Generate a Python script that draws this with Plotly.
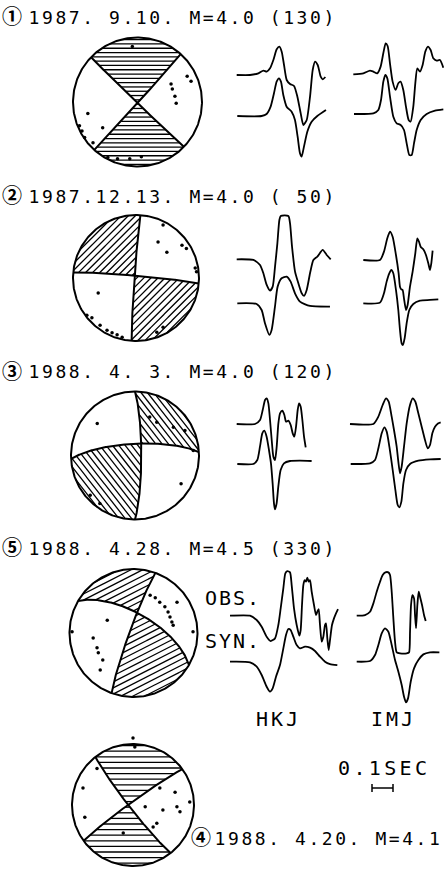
import numpy as np
import plotly.graph_objects as go

W, H = 444, 869

# ------------------------------------------------------------------
# Event headers
EVENT_ORDER = [1, 2, 3, 5, 4]
CIRCLED = {1: "①", 2: "②", 3: "③", 4: "④", 5: "⑤"}
DATES = {1: "1987. 9.10.", 2: "1987.12.13.", 3: "1988. 4. 3.", 5: "1988. 4.28.", 4: "1988. 4.20."}
MAGNITUDES = {1: 4.0, 2: 4.0, 3: 4.0, 5: 4.5, 4: 4.1}
BRACKET_VALUES = {1: 130, 2: 50, 3: 120, 5: 330, 4: None}

# ------------------------------------------------------------------
# Focal mechanisms: (strike, dip) of both nodal planes in degrees
PLANES = {
    1: [(42, 89), (134, 89)],
    2: [(184, 88), (275, 87)],
    3: [(267, 75), (0, 82)],
    5: [(300, 65), (200, 85)],
    4: [(142, 85), (234, 86)],
}
# rim azimuth (deg) that falls inside a compressional (hatched) quadrant
COMP_AZIMUTH = {1: 0, 2: 315, 3: 45, 5: 0, 4: 0}

# first-motion readings, projected (east, north) on the unit net
POLARITY_1_X = [0.52, 0.54, 0.58, 0.60, 0.77, 0.83, -0.77, -0.54, -0.90, -0.86, -0.82, -0.69, -0.08, -0.46, -0.31, -0.12, 0.06]
POLARITY_1_Y = [0.28, 0.20, 0.09, -0.02, 0.40, 0.32, -0.18, -0.40, -0.37, -0.45, -0.55, -0.63, 0.86, -0.86, -0.88, -0.88, -0.85]
POLARITY_2_X = [0.43, 0.35, 0.49, 0.73, 0.80, 0.94, 0.96, -0.60, -0.78, -0.70, -0.57, -0.46, -0.38, -0.30, -0.22, 0.33, 0.43]
POLARITY_2_Y = [0.84, 0.57, 0.41, 0.52, 0.47, 0.16, 0.10, -0.24, -0.59, -0.63, -0.75, -0.83, -0.87, -0.90, -0.94, -0.86, -0.78]
POLARITY_3_X = [-0.59, 0.72, 0.23, 0.34, 0.60, 0.78, 0.91, -0.70, -0.55]
POLARITY_3_Y = [0.50, -0.44, 0.60, 0.52, 0.44, 0.39, 0.08, -0.62, -0.75]
POLARITY_5_X = [0.26, 0.34, 0.41, 0.49, 0.54, 0.57, 0.60, 0.62, 0.68, -0.41, -0.63, -0.57, -0.55, -0.48, -0.52, 0.93, -0.96]
POLARITY_5_Y = [0.59, 0.55, 0.48, 0.41, 0.33, 0.25, 0.17, 0.12, 0.48, 0.20, -0.08, -0.23, -0.31, -0.42, -0.58, 0.02, 0.02]
POLARITY_4_X = [0.00, 0.03, -0.59, -0.82, -0.79, 0.44, 0.69, 0.20, 0.49, 0.72, 0.77, 0.39, 0.33, 0.93, -0.16]
POLARITY_4_Y = [1.10, 0.95, 0.60, 0.28, -0.20, 0.28, 0.21, -0.03, -0.08, -0.03, -0.11, -0.30, -0.36, 0.05, -0.46]
POLARITY = {1: (POLARITY_1_X, POLARITY_1_Y), 2: (POLARITY_2_X, POLARITY_2_Y),
            3: (POLARITY_3_X, POLARITY_3_Y), 5: (POLARITY_5_X, POLARITY_5_Y),
            4: (POLARITY_4_X, POLARITY_4_Y)}

# ------------------------------------------------------------------
# Waveforms: time in samples (630 samples/s), amplitude in counts
SAMPLES_PER_SEC = 630

HKJ_OBS_1_T = [0, 40, 65, 80, 90, 100, 110, 120, 128, 135, 142, 150, 160, 172, 182, 192, 200, 210, 220, 228, 235, 243, 252, 258, 266]
HKJ_OBS_1_A = [0, 0, 5, 13, 10, 20, 45, 77, 85, 70, 30, -15, -27, -33, -65, -115, -150, -135, -65, 15, 40, 30, -5, -13, -6]
HKJ_SYN_1_T = [0, 73, 88, 100, 110, 118, 125, 131, 138, 148, 163, 173, 181, 188, 193, 200, 210, 223, 240, 266]
HKJ_SYN_1_A = [0, 0, 6, 28, 68, 103, 113, 103, 63, 28, 13, -12, -62, -112, -122, -92, -47, -17, 0, 18]
IMJ_OBS_1_T = [0, 30, 50, 60, 72, 82, 90, 97, 103, 110, 118, 127, 135, 142, 150, 158, 166, 172, 180, 186, 192, 200, 208, 216, 224, 232, 240, 250, 260, 270]
IMJ_OBS_1_A = [0, 3, 11, 8, 3, 23, 63, 93, 85, 33, -22, -47, -27, -22, -47, -97, -137, -142, -97, -27, 18, 8, 28, 68, 83, 73, 48, 41, 43, 20]
IMJ_SYN_1_T = [0, 58, 73, 81, 88, 94, 100, 108, 118, 128, 140, 150, 158, 166, 173, 180, 188, 200, 218, 243, 268]
IMJ_SYN_1_A = [0, 2, 12, 42, 97, 117, 107, 52, -8, -28, -33, -48, -88, -123, -123, -88, -48, -18, 0, 10, 14]

HKJ_OBS_2_T = [0, 50, 70, 80, 90, 100, 108, 115, 122, 128, 132, 155, 160, 166, 175, 185, 195, 202, 210, 220, 230, 242, 258, 270, 282]
HKJ_OBS_2_A = [0, -2, -17, -42, -77, -94, -82, -22, 48, 118, 130, 130, 108, 38, -37, -72, -102, -110, -92, -42, -2, 8, 28, 13, 0]
HKJ_SYN_2_T = [0, 58, 73, 83, 96, 103, 113, 121, 133, 148, 160, 173, 188, 218, 278]
HKJ_SYN_2_A = [0, -2, -20, -60, -95, -80, -10, 50, 75, 80, 65, 30, 5, -8, -10]
IMJ_OBS_2_T = [0, 50, 62, 72, 80, 88, 98, 106, 110, 114, 118, 122, 128, 133, 140, 148, 156, 162, 167, 172, 180, 188, 195, 200, 204, 208]
IMJ_OBS_2_A = [0, 0, 25, 65, 85, 70, 15, -40, -80, -88, -90, -115, -150, -135, -80, -35, 20, 65, 55, 40, 32, 15, -10, -30, -10, 28]
IMJ_SYN_2_T = [0, 50, 62, 70, 78, 84, 90, 98, 105, 110, 115, 119, 124, 130, 138, 150, 170, 200, 225]
IMJ_SYN_2_A = [0, 2, 30, 65, 90, 100, 90, 40, -20, -80, -120, -125, -105, -60, -20, -2, 8, 10, 12]

HKJ_OBS_3_T = [0, 55, 70, 78, 85, 90, 95, 100, 105, 110, 115, 120, 125, 130, 137, 143, 148, 155, 162, 168, 173, 178, 183, 187, 192, 197, 202, 207]
HKJ_OBS_3_A = [0, 0, 12, 42, 72, 77, 62, 12, -48, -98, -108, -68, 2, 32, 40, 27, 7, 10, -3, -28, -38, -8, 42, 62, 52, 12, -38, -70]
HKJ_SYN_3_T = [0, 48, 60, 68, 75, 81, 88, 95, 101, 106, 110, 113, 118, 123, 130, 140, 158, 188, 223]
HKJ_SYN_3_A = [0, 0, 12, 52, 92, 100, 82, 42, 2, -58, -118, -136, -118, -68, -18, 2, 9, 10, 9]
IMJ_OBS_3_T = [0, 70, 85, 98, 108, 116, 125, 132, 140, 145, 150, 155, 162, 170, 180, 188, 196, 205, 215, 225, 233, 240, 247, 255, 265, 272]
IMJ_OBS_3_A = [0, 0, 22, 57, 77, 67, 22, -18, -68, -113, -148, -128, -68, 2, 57, 77, 67, 32, -8, -48, -73, -63, -28, -8, 2, 5]
IMJ_SYN_3_T = [0, 58, 73, 83, 93, 101, 108, 116, 126, 134, 141, 146, 152, 158, 166, 178, 203, 238, 270]
IMJ_SYN_3_A = [0, 2, 12, 47, 92, 110, 97, 52, -18, -78, -123, -130, -113, -58, -18, 0, 10, 14, 15]

HKJ_OBS_5_T = [0, 60, 80, 95, 110, 122, 135, 145, 152, 160, 166, 172, 180, 185, 192, 200, 208, 212, 216, 220, 224, 228, 232, 236, 240, 245, 252, 258, 262, 266, 270, 275, 280, 285, 288, 292, 296, 300, 306, 312, 318, 324]
HKJ_OBS_5_A = [0, 0, -13, -33, -63, -76, -68, -28, 22, 82, 127, 134, 130, 92, 22, -28, -60, -43, 32, 92, 107, 102, 114, 102, 107, 72, 32, 2, 12, 20, -28, -78, -63, -28, -23, -68, -103, -73, -28, -8, 7, 20]
HKJ_SYN_5_T = [0, 60, 80, 95, 110, 120, 128, 138, 150, 160, 168, 175, 182, 190, 200, 210, 225, 240, 255, 270, 285, 300, 322]
HKJ_SYN_5_A = [0, -2, -15, -40, -75, -90, -80, -45, -10, 40, 80, 98, 95, 75, 50, 40, 45, 42, 32, 15, 0, -7, -10]
IMJ_OBS_5_T = [0, 25, 40, 50, 60, 70, 78, 86, 95, 100, 105, 110, 115, 120, 130, 150, 157, 160, 163, 167, 172, 175, 178, 182, 186, 190, 196, 202, 207]
IMJ_OBS_5_A = [0, 2, 12, 37, 72, 102, 122, 130, 130, 122, 72, -8, -78, -110, -113, -113, -110, -48, 32, 62, 52, 2, -38, 32, 72, 57, 32, 2, -16]
IMJ_SYN_5_T = [0, 40, 55, 65, 75, 85, 95, 105, 115, 125, 135, 142, 148, 154, 162, 172, 185, 200, 220, 248]
IMJ_SYN_5_A = [0, 2, 20, 50, 85, 100, 90, 50, 5, -30, -70, -105, -122, -110, -60, -20, 5, 22, 28, 28]

WAVES = {
    1: {"HKJ": ((HKJ_OBS_1_T, HKJ_OBS_1_A), (HKJ_SYN_1_T, HKJ_SYN_1_A)),
        "IMJ": ((IMJ_OBS_1_T, IMJ_OBS_1_A), (IMJ_SYN_1_T, IMJ_SYN_1_A))},
    2: {"HKJ": ((HKJ_OBS_2_T, HKJ_OBS_2_A), (HKJ_SYN_2_T, HKJ_SYN_2_A)),
        "IMJ": ((IMJ_OBS_2_T, IMJ_OBS_2_A), (IMJ_SYN_2_T, IMJ_SYN_2_A))},
    3: {"HKJ": ((HKJ_OBS_3_T, HKJ_OBS_3_A), (HKJ_SYN_3_T, HKJ_SYN_3_A)),
        "IMJ": ((IMJ_OBS_3_T, IMJ_OBS_3_A), (IMJ_SYN_3_T, IMJ_SYN_3_A))},
    5: {"HKJ": ((HKJ_OBS_5_T, HKJ_OBS_5_A), (HKJ_SYN_5_T, HKJ_SYN_5_A)),
        "IMJ": ((IMJ_OBS_5_T, IMJ_OBS_5_A), (IMJ_SYN_5_T, IMJ_SYN_5_A))},
}
STATIONS = ["HKJ", "IMJ"]
SCALE_BAR_SEC = 0.1

# ------------------------------------------------------------------
# Page layout (pixel units, y downward)
BALL = {1: (137.5, 102, 64.5), 2: (136, 278, 63), 3: (135, 455.5, 64),
        5: (133.5, 633, 64), 4: (133, 805, 61)}
HATCH = {1: (0, 4.3), 2: (45, 5.0), 3: (-52, 5.0), 5: (27, 5.4), 4: (0, 5.6)}
WAVE_ORIGIN = {
    1: {"HKJ": ((236.7, 75), (237.3, 116)), "IMJ": ((353.3, 74.3), (354, 114))},
    2: {"HKJ": ((236.7, 259.3), (237.3, 303.3)), "IMJ": ((363.3, 260), (363.3, 303.3))},
    3: {"HKJ": ((236.7, 424), (237.3, 464)), "IMJ": ((350, 424), (350.7, 464))},
    5: {"HKJ": ((230, 615.7), (230, 661.7)), "IMJ": ((356.7, 615.7), (356.7, 661.7))},
}
PX_PER_SAMPLE = 1 / 3
PX_PER_COUNT = 1 / 3
# (circled-number x, first header char x, centre y)
TITLE_POS = {1: (12, 34, 19), 2: (12, 34, 198), 3: (12, 34, 373.5), 5: (12, 34, 550), 4: (201, 220, 840)}
TITLE_PITCH = 13.4

FONT = "DejaVu Sans Mono"
CIRCLE_FONT = "Noto Sans CJK JP"
INK = "black"

fig = go.Figure()


def add_line(xs, ys, width, shape="linear", smoothing=1.0):
    fig.add_trace(go.Scatter(x=xs, y=ys, mode="lines",
                             line=dict(color=INK, width=width, shape=shape, smoothing=smoothing),
                             hoverinfo="skip", showlegend=False))


def add_chars(text, x_first, y, pitch, size, family=FONT, weight="normal"):
    xs, ys, cs = [], [], []
    for i, ch in enumerate(text):
        if ch != " ":
            xs.append(x_first + i * pitch)
            ys.append(y)
            cs.append(ch)
    fig.add_trace(go.Scatter(x=xs, y=ys, mode="text", text=cs, textposition="middle center",
                             textfont=dict(family=family, size=size, color=INK, weight=weight),
                             hoverinfo="skip", showlegend=False))


# ---------------- stereonet helpers (lower hemisphere, equal area) ----------------
def project(v):
    n, e, d = v
    plunge = np.arcsin(np.clip(d, -1, 1))
    trend = np.arctan2(e, n)
    r = np.sqrt(2) * np.sin((np.pi / 2 - plunge) / 2)
    return r * np.sin(trend), r * np.cos(trend)


def unproject(x, y):
    r = np.hypot(x, y)
    trend = np.arctan2(x, y)
    plunge = np.pi / 2 - 2 * np.arcsin(np.clip(r / np.sqrt(2), 0, 1))
    return np.array([np.cos(plunge) * np.cos(trend), np.cos(plunge) * np.sin(trend), np.sin(plunge)])


def plane_normal(strike, dip):
    s, d = np.radians(strike), np.radians(dip)
    return np.array([-np.sin(d) * np.sin(s), np.sin(d) * np.cos(s), -np.cos(d)])


def nodal_curve(strike, dip):
    s, d = np.radians(strike), np.radians(dip)
    along = np.array([np.cos(s), np.sin(s), 0.0])
    down = np.array([-np.cos(d) * np.sin(s), np.cos(d) * np.cos(s), np.sin(d)])
    th = np.linspace(0, np.pi, 241)
    v = np.outer(along, np.cos(th)) + np.outer(down, np.sin(th))
    return project(v)


def draw_ball(ev):
    cx, cy, R = BALL[ev]
    normals = [plane_normal(*p) for p in PLANES[ev]]
    az = np.radians(COMP_AZIMUTH[ev])
    ref = np.array([np.cos(az), np.sin(az), 0.0])
    flip = np.sign((ref @ normals[0]) * (ref @ normals[1]))

    def compressional(x, y):
        v = unproject(x, y)
        return flip * (normals[0] @ v) * (normals[1] @ v) > 0

    # hatching of compressional quadrants
    ang, gap = HATCH[ev]
    a = np.radians(ang)
    u = np.array([np.cos(a), np.sin(a)])
    w = np.array([-np.sin(a), np.cos(a)])
    step = gap / R
    hx, hy = [], []
    for c in np.arange(-1 + step / 2, 1, step):
        half = np.sqrt(max(1 - c * c, 0))
        s = np.linspace(-half, half, 500)
        px = c * w[0] + s * u[0]
        py = c * w[1] + s * u[1]
        mask = compressional(px, py)
        run = False
        for i in range(len(s)):
            if mask[i]:
                hx.append(cx + R * px[i]); hy.append(cy - R * py[i]); run = True
            elif run:
                hx.append(None); hy.append(None); run = False
        if run:
            hx.append(None); hy.append(None)
    add_line(hx, hy, 1.3)

    # nodal planes
    for strike, dip in PLANES[ev]:
        x, y = nodal_curve(strike, dip)
        add_line(cx + R * x, cy - R * y, 2.0)

    # primitive circle
    t = np.linspace(0, 2 * np.pi, 361)
    add_line(cx + R * np.cos(t), cy - R * np.sin(t), 2.0)

    # first-motion dots
    px, py = POLARITY[ev]
    fig.add_trace(go.Scatter(x=[cx + R * v for v in px], y=[cy - R * v for v in py], mode="markers",
                             marker=dict(color=INK, size=3.5), hoverinfo="skip", showlegend=False))


for ev in EVENT_ORDER:
    draw_ball(ev)
    # header
    xc, x1, yt = TITLE_POS[ev]
    add_chars(CIRCLED[ev], xc, yt, TITLE_PITCH, 20, CIRCLE_FONT, "bold")
    head = f"{DATES[ev]} M={MAGNITUDES[ev]:.1f}"
    if BRACKET_VALUES[ev] is not None:
        head += f" ({BRACKET_VALUES[ev]:3d})"
    add_chars(head, x1, yt, TITLE_PITCH, 18)
    # waveforms
    if ev in WAVES:
        for st in STATIONS:
            for (t, amp), (x0, y0) in zip(WAVES[ev][st], WAVE_ORIGIN[ev][st]):
                xs = [x0 + v * PX_PER_SAMPLE for v in t]
                ys = [y0 - v * PX_PER_COUNT for v in amp]
                add_line(xs, ys, 1.8, shape="spline", smoothing=0.6)

# trace labels
add_chars("OBS.", 211, 600, 14, 20)
add_chars("SYN.", 211, 643, 14, 20)
add_chars("HKJ", 262, 721, 15, 20)
add_chars("IMJ", 377, 721, 15, 20)
add_chars("0.1SEC", 344, 770, 15.4, 20)

# time scale bar
bar_len = SCALE_BAR_SEC * SAMPLES_PER_SEC * PX_PER_SAMPLE
bx0, by = 372, 788
add_line([bx0, bx0 + bar_len], [by, by], 1.5)
add_line([bx0, bx0, None, bx0 + bar_len, bx0 + bar_len], [by - 4, by + 4, None, by - 4, by + 4], 1.5)

fig.update_layout(
    width=W, height=H, margin=dict(l=0, r=0, t=0, b=0),
    paper_bgcolor="white", plot_bgcolor="white", showlegend=False,
    xaxis=dict(range=[0, W], visible=False, fixedrange=True),
    yaxis=dict(range=[H, 0], visible=False, fixedrange=True),
)
fig.write_html("out.html")
